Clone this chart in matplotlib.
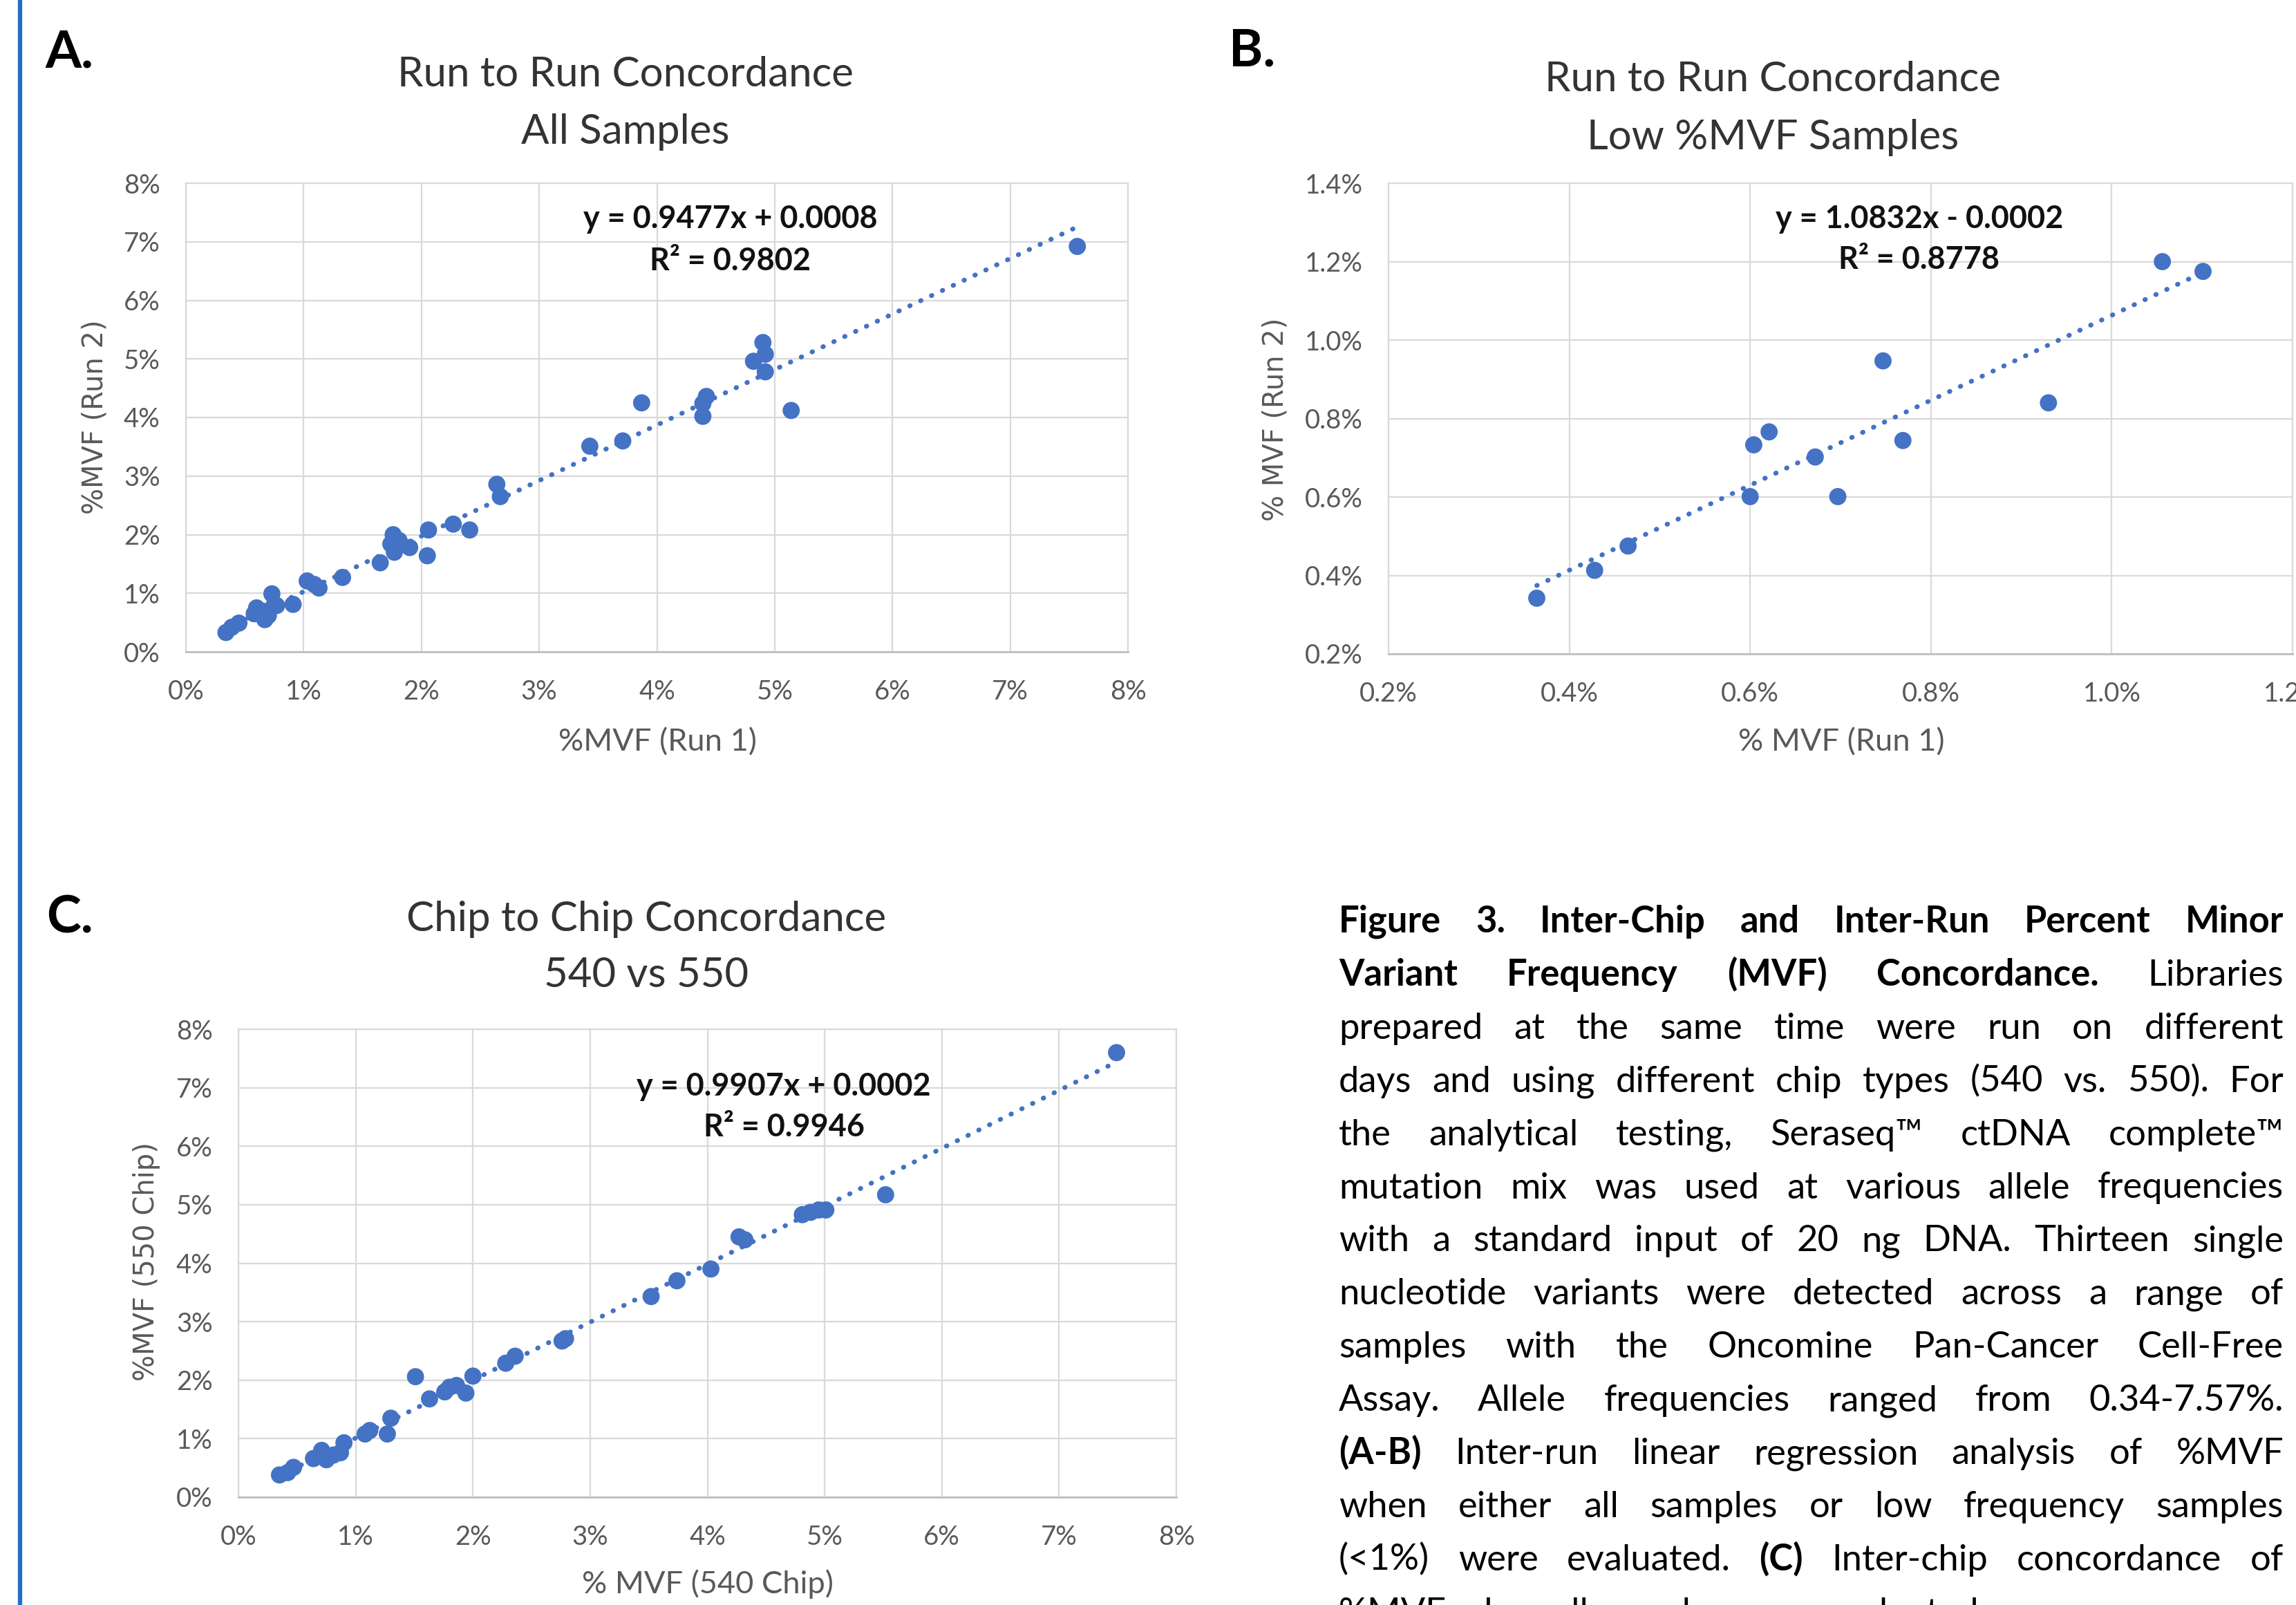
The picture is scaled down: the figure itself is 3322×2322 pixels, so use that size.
import numpy as np
import matplotlib
matplotlib.use('Agg')
import matplotlib.pyplot as plt
from matplotlib.lines import Line2D
from matplotlib.ticker import MultipleLocator, FuncFormatter

plt.rcParams['font.family'] = ['Lato', 'DejaVu Sans']

# ---- data (all values in %MVF) ----
# A. run to run, all samples
a_run1 = [0.34, 0.39, 0.45, 0.58, 0.60, 0.62, 0.66, 0.67, 0.70, 0.73, 0.75, 0.77,
          0.91, 1.03, 1.09, 1.13, 1.33, 1.65, 1.74, 1.76, 1.77, 1.81, 1.90, 2.05,
          2.06, 2.27, 2.41, 2.64, 2.67, 3.43, 3.71, 3.87, 4.39, 4.39, 4.42, 4.82,
          4.90, 4.92, 4.92, 5.14, 7.57]
a_run2 = [0.33, 0.42, 0.49, 0.65, 0.75, 0.70, 0.69, 0.55, 0.62, 0.99, 0.80, 0.79,
          0.81, 1.21, 1.15, 1.09, 1.27, 1.52, 1.84, 2.00, 1.70, 1.90, 1.78, 1.64,
          2.08, 2.18, 2.08, 2.86, 2.65, 3.51, 3.60, 4.25, 4.02, 4.24, 4.36, 4.96,
          5.28, 5.08, 4.78, 4.12, 6.92]
a_fit = (0.9477, 0.08)

# B. run to run, low %MVF samples
b_run1 = [0.364, 0.428, 0.465, 0.600, 0.604, 0.621, 0.672, 0.697, 0.747, 0.769,
          0.930, 1.056, 1.101]
b_run2 = [0.342, 0.413, 0.475, 0.601, 0.733, 0.766, 0.702, 0.601, 0.947, 0.744,
          0.840, 1.200, 1.175]
b_fit = (1.0832, -0.02)

# C. chip to chip, 540 vs 550
c_540 = [0.35, 0.42, 0.47, 0.64, 0.71, 0.75, 0.81, 0.87, 0.90, 1.08, 1.12, 1.27,
         1.30, 1.51, 1.63, 1.76, 1.80, 1.86, 1.94, 2.00, 2.28, 2.36, 2.76, 2.79,
         3.52, 3.74, 4.03, 4.27, 4.32, 4.81, 4.88, 4.95, 5.01, 5.52, 7.49]
c_550 = [0.38, 0.42, 0.51, 0.66, 0.80, 0.64, 0.72, 0.76, 0.93, 1.08, 1.14, 1.08,
         1.35, 2.06, 1.68, 1.80, 1.88, 1.91, 1.78, 2.07, 2.29, 2.41, 2.67, 2.71,
         3.43, 3.70, 3.90, 4.45, 4.40, 4.83, 4.87, 4.91, 4.91, 5.17, 7.60]
c_fit = (0.9907, 0.02)

a_title = ['Run to Run Concordance', 'All Samples']
b_title = ['Run to Run Concordance', 'Low %MVF Samples']
c_title = ['Chip to Chip Concordance', '540 vs 550']
a_eq = ['y = 0.9477x + 0.0008', 'R² = 0.9802']
b_eq = ['y = 1.0832x - 0.0002', 'R² = 0.8778']
c_eq = ['y = 0.9907x + 0.0002', 'R² = 0.9946']

caption = [
    '**Figure 3. Inter-Chip and Inter-Run Percent Minor**',
    '**Variant Frequency (MVF) Concordance.** Libraries',
    'prepared at the same time were run on different',
    'days and using different chip types (540 vs. 550). For',
    'the analytical testing, Seraseq™ ctDNA complete™',
    'mutation mix was used at various allele frequencies',
    'with a standard input of 20 ng DNA. Thirteen single',
    'nucleotide variants were detected across a range of',
    'samples with the Oncomine Pan-Cancer Cell-Free',
    'Assay. Allele frequencies ranged from 0.34-7.57%.',
    '**(A-B)** Inter-run linear regression analysis of %MVF',
    'when either all samples or low frequency samples',
    '(<1%) were evaluated. **(C)** Inter-chip concordance of',
    '%MVF when all samples were evaluated.',
]

BLUE = '#4472C4'
W, H = 3322, 2322
fig = plt.figure(figsize=(W / 100, H / 100), dpi=100)
rend = fig.canvas.get_renderer()


def px(x, y):
    return x / W, 1 - y / H


def text_w(s, fs, weight='normal', family=None, rot=0):
    t = fig.text(0, 0, s, fontsize=fs, fontweight=weight, rotation=rot)
    if family:
        t.set_family(family)
    bb = t.get_window_extent(rend)
    t.remove()
    return bb.height if rot else bb.width


def fit_size(s, target, **kw):
    return 100 * target / text_w(s, 100, **kw)


# font sizes matched to the widths measured on the reference
fs_letter = fit_size('A.', 70, weight='bold')
fs_title = fit_size('Run to Run Concordance', 660)
fs_eq = fit_size('y = 0.9477x + 0.0008', 426, weight='bold')
fs_xlab = fit_size('%MVF (Run 1)', 287)
fs_ylab = fit_size('%MVF (Run 2)', 282, family='DejaVu Sans')
fs_tick = fit_size('1.0%', 84)


def panel(box, xs, ys, fit, xlim, ylim, step, dec, letter, title, eq,
          xlabel, ylabel, lay):
    l, t, r, b = box
    ax = fig.add_axes([l / W, 1 - b / H, (r - l) / W, (b - t) / H])
    ax.scatter(xs, ys, s=320, color=BLUE, edgecolors='none', zorder=3)
    xx = np.array([min(xs), max(xs)])
    ax.plot(xx, fit[0] * xx + fit[1], color=BLUE, lw=5,
            linestyle=(0, (0.1, 2.4)), dash_capstyle='round', zorder=2)
    ax.set_xlim(*xlim)
    ax.set_ylim(*ylim)
    ax.xaxis.set_major_locator(MultipleLocator(step))
    ax.yaxis.set_major_locator(MultipleLocator(step))
    f = FuncFormatter(lambda v, p: f'{v:.{dec}f}%')
    ax.xaxis.set_major_formatter(f)
    ax.yaxis.set_major_formatter(f)
    ax.grid(color='#D9D9D9', lw=1.6)
    ax.set_axisbelow(True)
    for s in ['top', 'right', 'left']:
        ax.spines[s].set_color('#D9D9D9')
        ax.spines[s].set_linewidth(1.6)
    ax.spines['bottom'].set_color('#BFBFBF')
    ax.spines['bottom'].set_linewidth(2)
    ax.tick_params(length=0, labelsize=fs_tick, labelcolor='#595959')
    ax.tick_params(axis='x', pad=29)
    ax.tick_params(axis='y', pad=27)

    fig.text(*px(lay['letter'][0], lay['letter'][1]), letter, fontsize=fs_letter,
             fontweight='bold', va='baseline', ha='left')
    for s, yb in zip(title, lay['title'][1:]):
        fig.text(*px(lay['title'][0], yb), s, fontsize=fs_title, color='#333333',
                 ha='center', va='baseline')
    for s, yb in zip(eq, lay['eq'][1:]):
        fig.text(*px(lay['eq'][0], yb), s, fontsize=fs_eq, fontweight='bold',
                 color='#111111', ha='center', va='baseline')
    fig.text(*px(*lay['xlab']), xlabel, fontsize=fs_xlab, color='#595959',
             ha='center', va='center')
    fig.text(*px(*lay['ylab']), ylabel, fontsize=fs_ylab, color='#595959',
             family='DejaVu Sans', rotation=90, ha='center', va='center')
    return ax


panel((269, 265, 1632, 943), a_run1, a_run2, a_fit, (0, 8), (0, 8), 1, 0,
      'A.', a_title, a_eq, '%MVF (Run 1)', '%MVF (Run 2)',
      dict(letter=(65, 98), title=(905, 125, 208), eq=(1057, 330, 391),
           xlab=(951, 1074), ylab=(138, 603)))
panel((2009, 265, 3317, 946), b_run1, b_run2, b_fit, (0.2, 1.2), (0.2, 1.4), 0.2, 1,
      'B.', b_title, b_eq, '% MVF (Run 1)', '% MVF (Run 2)',
      dict(letter=(1778, 95), title=(2565, 132, 216), eq=(2777, 330, 389),
           xlab=(2664, 1074), ylab=(1845, 607)))
panel((345, 1489, 1702, 2166), c_540, c_550, c_fit, (0, 8), (0, 8), 1, 0,
      'C.', c_title, c_eq, '% MVF (540 Chip)', '%MVF (550 Chip)',
      dict(letter=(67, 1350), title=(935, 1347, 1428), eq=(1134, 1585, 1644),
           xlab=(1024, 2292), ylab=(212, 1825)))

# blue rule at the left edge
fig.add_artist(Line2D([29 / W, 29 / W], [0, 1], color='#1F6FC5', lw=4.5))

# justified caption
cap_left, cap_right = 1937, 3304
cap_base, cap_step = 1349, 76.9
cap_fs = 37.8


def parse(line):
    out = []
    for i, part in enumerate(line.split('**')):
        for w in part.split():
            out.append((w, 'bold' if i % 2 else 'normal'))
    return out


lines = [parse(s) for s in caption]
box_w = cap_right - cap_left
sp = text_w('a a', cap_fs) - text_w('aa', cap_fs)
widest = max(sum(text_w(w, cap_fs, b) for w, b in ws) + sp * (len(ws) - 1)
             for ws in lines)
if widest > box_w:
    cap_fs *= box_w / widest * 0.995
    sp = text_w('a a', cap_fs) - text_w('aa', cap_fs)

for i, ws in enumerate(lines):
    widths = [text_w(w, cap_fs, b) for w, b in ws]
    if i < len(lines) - 1:
        gap = (box_w - sum(widths)) / (len(ws) - 1)
    else:
        gap = sp
    x = cap_left
    y = cap_base + i * cap_step
    for (w, b), wd in zip(ws, widths):
        fig.text(*px(x, y), w, fontsize=cap_fs, fontweight=b, color='black',
                 ha='left', va='baseline')
        x += wd + gap

fig.savefig('out.png', dpi=100)
